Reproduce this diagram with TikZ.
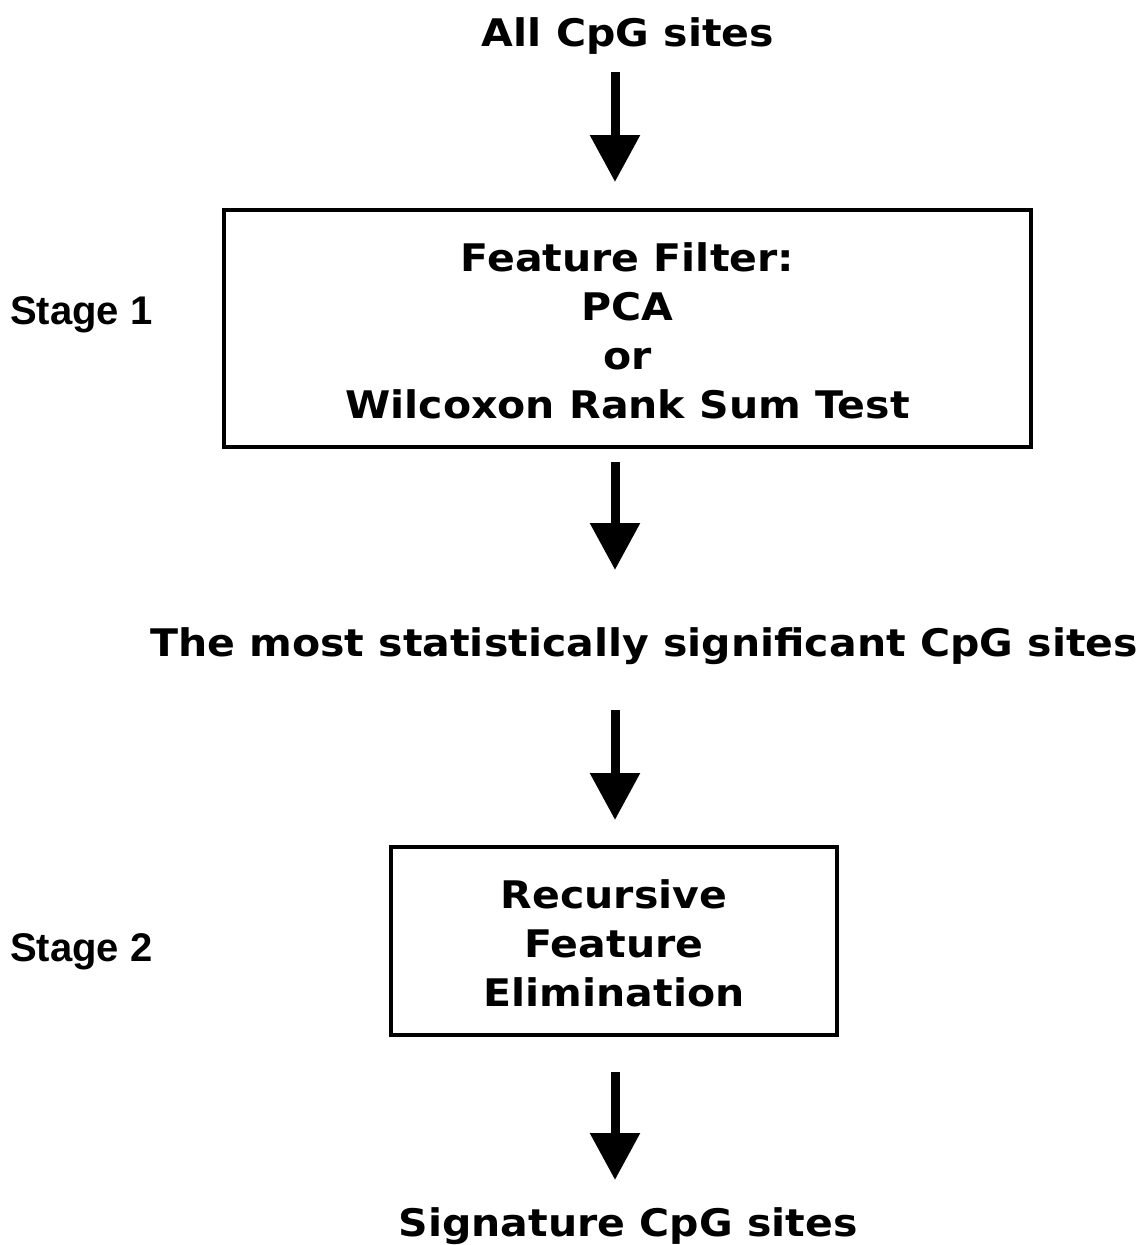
\documentclass[tikz,border=0pt]{standalone}
\usepackage{fontspec}
\setmainfont{DejaVu Sans}[FakeStretch=1.08]
\newfontfamily\stagefont{Liberation Sans}
\usetikzlibrary{arrows.meta}
\begin{document}
\begin{tikzpicture}[x=1pt,y=-1pt,
  title/.style={font=\fontsize{38}{49}\selectfont\bfseries, align=center, inner sep=0pt},
  stagelbl/.style={font=\stagefont\fontsize{40}{46}\selectfont\bfseries, inner sep=0pt, anchor=west},
  procbox/.style={draw, line width=4pt, inner sep=0pt},
  flow/.style={line width=9pt, -{Triangle[width=48pt,length=47pt]}}]
\useasboundingbox (0,0) rectangle (1144,1245);

% inputs and outputs
\node[title] (all) at (628,36) {All CpG sites};
\node[title] (sig) at (644,646) {The most statistically significant CpG sites};
\node[title] (out) at (628,1226) {Signature CpG sites};

% processing boxes
\node[procbox, minimum width=807pt, minimum height=237pt] (filter) at (627.5,328.5) {};
\node[title] at ([yshift=-2pt]filter.center) {Feature Filter:\\PCA\\or\\Wilcoxon Rank Sum Test};
\node[procbox, minimum width=446pt, minimum height=188pt] (rfe) at (614,941) {};
\node[title] at ([yshift=-2pt]rfe.center) {Recursive\\Feature\\Elimination};

% stage labels
\node[stagelbl] (s1) at (10,315) {Stage 1};
\node[stagelbl] (s2) at (10,952) {Stage 2};

% arrows
\coordinate (a1s) at (615,72);  \coordinate (a1e) at (615,182);
\coordinate (a2s) at (615,462); \coordinate (a2e) at (615,570);
\coordinate (a3s) at (615,710); \coordinate (a3e) at (615,820);
\coordinate (a4s) at (615,1072);\coordinate (a4e) at (615,1180);
\draw[flow] (a1s) -- (a1e);
\draw[flow] (a2s) -- (a2e);
\draw[flow] (a3s) -- (a3e);
\draw[flow] (a4s) -- (a4e);
\end{tikzpicture}
\end{document}
